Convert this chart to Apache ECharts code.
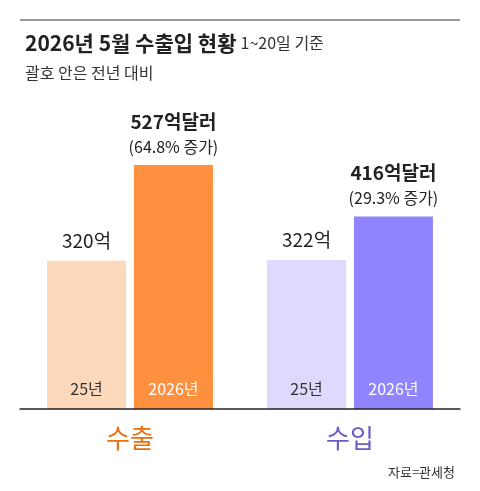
<!DOCTYPE html>
<html>
<head>
<meta charset="utf-8">
<script src="https://cdn.jsdelivr.net/npm/echarts@6/dist/echarts.min.js"></script>
<style>
html,body{margin:0;padding:0;background:#fff;}
#chart{width:480px;height:491px;}
</style>
</head>
<body>
<div id="chart"></div>
<script>
const categories = ['수출', '수입'];
const prevValues = [320, 322];
const currValues = [527, 416];
const prevLabels = ['320억', '322억'];
const currLabels = ['527억달러', '416억달러'];
const growthLabels = ['64.8% 증가', '29.3% 증가'];
const yearLabels = ['25년', '2026년'];

const FONT = 'Noto Sans CJK KR';
const prevColors = ['#FDD9BC', '#DDDAFD'];
const currColors = ['#FF9040', '#9084FF'];
const catColors = ['#E8700F', '#6A5BC6'];

const chart = echarts.init(document.getElementById('chart'));

const barCommon = { barWidth: 79, barGap: '10%', barCategoryGap: 0 };

chart.setOption({
  animation: false,
  textStyle: { fontFamily: FONT },
  title: [
    {
      left: 20, top: 25,
      text: '{a|2026년 5월 수출입 현황} {b|1~20일 기준}',
      textStyle: {
        rich: {
          a: { fontFamily: FONT, fontSize: 21, fontWeight: 'bold', color: '#222', lineHeight: 26 },
          b: { fontFamily: FONT, fontSize: 16, fontWeight: 'normal', color: '#333', lineHeight: 26 }
        }
      }
    },
    {
      left: 20, top: 58,
      text: '괄호 안은 전년 대비',
      textStyle: { fontFamily: FONT, fontSize: 16, fontWeight: 'normal', color: '#333', lineHeight: 20 }
    },
    {
      right: 20, top: 458,
      text: '자료=관세청',
      textStyle: { fontFamily: FONT, fontSize: 13, fontWeight: 'normal', color: '#333', lineHeight: 18 }
    }
  ],
  graphic: [
    { type: 'line', shape: { x1: 20, y1: 20, x2: 460, y2: 20 }, style: { stroke: '#999', lineWidth: 2 } }
  ],
  grid: { left: 20, right: 20, top: 131.2, bottom: 82 },
  xAxis: [
    {
      type: 'category', data: categories,
      axisLine: { lineStyle: { color: '#222', width: 1.5 } },
      axisTick: { show: false },
      axisLabel: {
        margin: 14,
        formatter: (v, i) => (i === 0 ? '{e|' : '{i|') + v + '}',
        rich: {
          e: { fontFamily: FONT, fontSize: 26, color: catColors[0], lineHeight: 30 },
          i: { fontFamily: FONT, fontSize: 26, color: catColors[1], lineHeight: 30 }
        }
      },
      z: 10
    },
    { type: 'category', data: categories, show: false }
  ],
  yAxis: { type: 'value', min: 0, max: 600, show: false },
  series: [
    Object.assign({
      type: 'bar', name: yearLabels[0], xAxisIndex: 0,
      data: prevValues.map((v, i) => ({ value: v, itemStyle: { color: prevColors[i] } })),
      label: {
        show: true, position: 'top', distance: 10,
        formatter: p => prevLabels[p.dataIndex],
        fontFamily: FONT, fontSize: 19, color: '#222', lineHeight: 20
      }
    }, barCommon),
    Object.assign({
      type: 'bar', name: yearLabels[1], xAxisIndex: 0,
      data: currValues.map((v, i) => ({ value: v, itemStyle: { color: currColors[i] } })),
      label: {
        show: true, position: 'top', distance: 6,
        formatter: p => '{a|' + currLabels[p.dataIndex] + '}\n{b|(' + growthLabels[p.dataIndex] + ')}',
        rich: {
          a: { fontFamily: FONT, fontSize: 19, fontWeight: 'bold', color: '#222', lineHeight: 25, align: 'center' },
          b: { fontFamily: FONT, fontSize: 16, color: '#222', lineHeight: 25, align: 'center' }
        }
      }
    }, barCommon),
    Object.assign({
      type: 'bar', xAxisIndex: 1, z: 3,
      data: prevValues,
      itemStyle: { color: 'rgba(0,0,0,0)' },
      label: {
        show: true, position: 'insideBottom', distance: 10,
        formatter: () => yearLabels[0],
        fontFamily: FONT, fontSize: 16, color: '#333', lineHeight: 20
      }
    }, barCommon),
    Object.assign({
      type: 'bar', xAxisIndex: 1, z: 3,
      data: currValues,
      itemStyle: { color: 'rgba(0,0,0,0)' },
      label: {
        show: true, position: 'insideBottom', distance: 10,
        formatter: () => yearLabels[1],
        fontFamily: FONT, fontSize: 16, color: '#fff', lineHeight: 20
      }
    }, barCommon)
  ]
});
</script>
</body>
</html>
